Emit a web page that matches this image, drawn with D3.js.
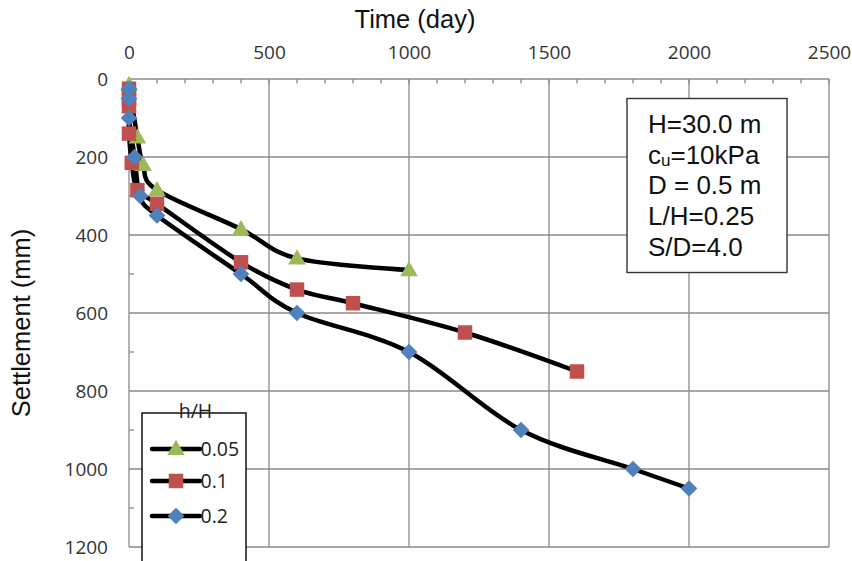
<!DOCTYPE html>
<html>
<head>
<meta charset="utf-8">
<script src="https://cdn.jsdelivr.net/npm/d3@7"></script>
<style>
  html, body { margin: 0; padding: 0; background: #fff; }
  svg { display: block; }
</style>
</head>
<body>
<svg id="chart" width="852" height="561"></svg>
<script>
// Settlement vs time for three h/H ratios
const seriesNames = ["0.05", "0.1", "0.2"];
const days005 = [0, 30, 50, 100, 400, 600, 1000];
const settle005 = [15, 150, 220, 285, 385, 460, 490];
const days01 = [0, 0, 0, 0, 10, 30, 100, 400, 600, 800, 1200, 1600];
const settle01 = [25, 50, 70, 140, 215, 285, 320, 470, 540, 575, 650, 750];
const days02 = [0, 0, 0, 20, 40, 100, 400, 600, 1000, 1400, 1800, 2000];
const settle02 = [25, 50, 100, 200, 300, 350, 500, 600, 700, 900, 1000, 1050];

const xTicks = [0, 500, 1000, 1500, 2000, 2500];
const yTicks = [0, 200, 400, 600, 800, 1000, 1200];
const xMinor = d3.range(0, 2501, 100);
const yMinor = d3.range(100, 1200, 200);

const noteLines = ["H=30.0 m", "cu=10kPa", "D = 0.5 m", "L/H=0.25", "S/D=4.0"];

const svg = d3.select("#chart");
const m = { left: 129, top: 79, right: 829, bottom: 547 };

const x = d3.scaleLinear().domain([0, 2500]).range([m.left, m.right]);
const y = d3.scaleLinear().domain([0, 1200]).range([m.top, m.bottom]);

const gridColor = "#8a8a8a";

// gridlines
const grid = svg.append("g");
grid.selectAll("line.h").data(yTicks.slice(1)).join("line")
  .attr("x1", m.left).attr("x2", m.right)
  .attr("y1", d => y(d)).attr("y2", d => y(d))
  .attr("stroke", gridColor).attr("stroke-width", 1.3);
grid.selectAll("line.v").data(xTicks.slice(1)).join("line")
  .attr("x1", d => x(d)).attr("x2", d => x(d))
  .attr("y1", m.top).attr("y2", m.bottom)
  .attr("stroke", gridColor).attr("stroke-width", 1.3);

// axis lines and minor ticks
grid.append("line").attr("x1", m.left).attr("x2", m.right).attr("y1", m.top).attr("y2", m.top)
  .attr("stroke", gridColor).attr("stroke-width", 1.3);
grid.append("line").attr("x1", m.left).attr("x2", m.left).attr("y1", m.top).attr("y2", m.bottom)
  .attr("stroke", gridColor).attr("stroke-width", 1.3);
grid.selectAll("line.xm").data(xMinor).join("line")
  .attr("x1", d => x(d)).attr("x2", d => x(d))
  .attr("y1", m.top).attr("y2", m.top + 4.5)
  .attr("stroke", gridColor).attr("stroke-width", 1.3);
grid.selectAll("line.ym").data(yMinor).join("line")
  .attr("x1", m.left).attr("x2", m.left + 5)
  .attr("y1", d => y(d)).attr("y2", d => y(d))
  .attr("stroke", gridColor).attr("stroke-width", 1.3);

// tick labels through d3 axes
const tickFont = "'Open Sans', sans-serif";
const fmt = d3.format("d");
const xAxis = svg.append("g").attr("transform", `translate(0,${m.top - 14})`)
  .call(d3.axisTop(x).tickValues(xTicks).tickFormat(fmt).tickSize(0).tickPadding(6));
xAxis.select(".domain").remove();
xAxis.selectAll("text").attr("font-family", tickFont).attr("font-size", 19).attr("fill", "#333");

const yAxis = svg.append("g").attr("transform", `translate(${m.left - 15},0)`)
  .call(d3.axisLeft(y).tickValues(yTicks).tickFormat(fmt).tickSize(0).tickPadding(6));
yAxis.select(".domain").remove();
yAxis.selectAll("text").attr("font-family", tickFont).attr("font-size", 19).attr("fill", "#333");

// axis titles
svg.append("text").attr("x", 415).attr("y", 28).attr("text-anchor", "middle")
  .attr("font-family", "'Liberation Sans', Arial, sans-serif").attr("font-size", 25.5)
  .attr("fill", "#111").text("Time (day)");
svg.append("text").attr("transform", "translate(30,323) rotate(-90)").attr("text-anchor", "middle")
  .attr("font-family", "'Liberation Sans', Arial, sans-serif").attr("font-size", 25.5)
  .attr("fill", "#111").text("Settlement (mm)");

// series
const series = [
  { name: seriesNames[0], days: days005, settle: settle005, color: "#9BBB59", shape: "triangle" },
  { name: seriesNames[1], days: days01, settle: settle01, color: "#C0504D", shape: "square" },
  { name: seriesNames[2], days: days02, settle: settle02, color: "#4F81BD", shape: "diamond" }
];

const line = d3.line().x(d => x(d[0])).y(d => y(d[1])).curve(d3.curveCatmullRom.alpha(0));

function markerPath(shape) {
  if (shape === "triangle") return d3.symbol(d3.symbolTriangle, 135)();
  return d3.symbol(d3.symbolSquare, shape === "square" ? 210 : 140)();
}
function markerTransform(shape, px, py) {
  if (shape === "diamond") return `translate(${px},${py}) rotate(45)`;
  if (shape === "triangle") return `translate(${px},${py + 1})`;
  return `translate(${px},${py})`;
}

const plot = svg.append("g");
series.forEach(s => {
  const pts = s.days.map((d, i) => [d, s.settle[i]]);
  plot.append("path").attr("d", line(pts))
    .attr("fill", "none").attr("stroke", "#000").attr("stroke-width", 4.5)
    .attr("stroke-linejoin", "round").attr("stroke-linecap", "round");
});
series.forEach(s => {
  const pts = s.days.map((d, i) => [d, s.settle[i]]);
  plot.selectAll(null).data(pts).join("path")
    .attr("d", markerPath(s.shape))
    .attr("transform", d => markerTransform(s.shape, x(d[0]), y(d[1])))
    .attr("fill", s.color);
});

// parameter box
const note = svg.append("g");
note.append("rect").attr("x", 627).attr("y", 98.5).attr("width", 160).attr("height", 174)
  .attr("fill", "#fff").attr("stroke", "#333").attr("stroke-width", 1.4);
noteLines.forEach((t, i) => {
  const tx = note.append("text").attr("x", 648).attr("y", 133 + i * 30.7)
    .attr("font-family", "'Liberation Sans', Arial, sans-serif").attr("font-size", 26)
    .attr("fill", "#111");
  if (t.startsWith("cu")) {
    tx.append("tspan").text("c");
    tx.append("tspan").attr("font-size", 17).attr("dy", 2).text("u");
    tx.append("tspan").attr("dy", -2).text(t.slice(2));
  } else {
    tx.text(t);
  }
});

// legend
const legend = svg.append("g");
legend.append("rect").attr("x", 142).attr("y", 413).attr("width", 104).attr("height", 170)
  .attr("fill", "#fff").attr("stroke", "#111").attr("stroke-width", 1.5);
legend.append("text").attr("x", 195.5).attr("y", 418).attr("text-anchor", "middle")
  .attr("font-family", tickFont).attr("font-size", 19.5).attr("fill", "#222").text("h/H");
const legY = [449, 481, 516];
series.forEach((s, i) => {
  const ly = legY[i];
  legend.append("line").attr("x1", 152).attr("x2", 200).attr("y1", ly).attr("y2", ly)
    .attr("stroke", "#000").attr("stroke-width", 4.5).attr("stroke-linecap", "round");
  legend.append("path").attr("d", markerPath(s.shape))
    .attr("transform", markerTransform(s.shape, 176, ly)).attr("fill", s.color);
  legend.append("text").attr("x", 200.5).attr("y", ly + 7)
    .attr("font-family", tickFont).attr("font-size", 19.5).attr("fill", "#222").text(s.name);
});
</script>
</body>
</html>
